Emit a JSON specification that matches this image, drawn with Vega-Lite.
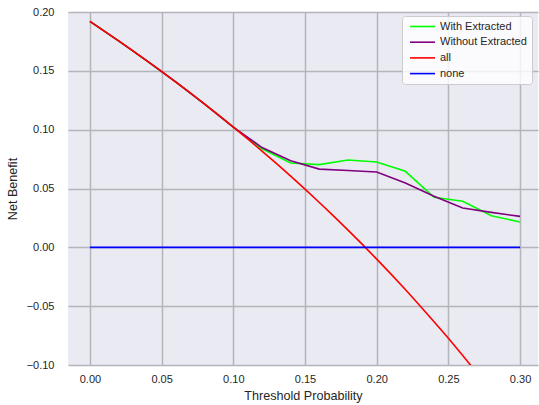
{
  "$schema": "https://vega.github.io/schema/vega-lite/v6.json",
  "width": 470,
  "height": 353,
  "autosize": "none",
  "padding": {"left": 68, "top": 12, "right": 1, "bottom": 40},
  "background": "#ffffff",
  "config": {
    "view": {"fill": "#EAEAF2", "stroke": null},
    "font": "Liberation Sans",
    "axis": {
      "domain": false,
      "ticks": false,
      "grid": true,
      "gridColor": "#b4b4bb",
      "gridWidth": 1.5,
      "labelColor": "#262626",
      "labelFontSize": 11,
      "titleColor": "#262626",
      "titleFontSize": 12.6,
      "titleFontWeight": "normal"
    }
  },
  "data": {
    "values": [
      {"series": "With Extracted", "x": 0.00, "y": 0.192},
      {"series": "With Extracted", "x": 0.02, "y": 0.1755},
      {"series": "With Extracted", "x": 0.04, "y": 0.1583},
      {"series": "With Extracted", "x": 0.06, "y": 0.1404},
      {"series": "With Extracted", "x": 0.08, "y": 0.1217},
      {"series": "With Extracted", "x": 0.10, "y": 0.1022},
      {"series": "With Extracted", "x": 0.12, "y": 0.0838},
      {"series": "With Extracted", "x": 0.14, "y": 0.0716},
      {"series": "With Extracted", "x": 0.16, "y": 0.0703},
      {"series": "With Extracted", "x": 0.18, "y": 0.0742},
      {"series": "With Extracted", "x": 0.20, "y": 0.0725},
      {"series": "With Extracted", "x": 0.22, "y": 0.0646},
      {"series": "With Extracted", "x": 0.24, "y": 0.0425},
      {"series": "With Extracted", "x": 0.26, "y": 0.0391},
      {"series": "With Extracted", "x": 0.28, "y": 0.0269},
      {"series": "With Extracted", "x": 0.30, "y": 0.0215},
      {"series": "Without Extracted", "x": 0.00, "y": 0.192},
      {"series": "Without Extracted", "x": 0.02, "y": 0.1755},
      {"series": "Without Extracted", "x": 0.04, "y": 0.1583},
      {"series": "Without Extracted", "x": 0.06, "y": 0.1404},
      {"series": "Without Extracted", "x": 0.08, "y": 0.1217},
      {"series": "Without Extracted", "x": 0.10, "y": 0.1022},
      {"series": "Without Extracted", "x": 0.12, "y": 0.0848},
      {"series": "Without Extracted", "x": 0.14, "y": 0.0735},
      {"series": "Without Extracted", "x": 0.16, "y": 0.0665},
      {"series": "Without Extracted", "x": 0.18, "y": 0.0653},
      {"series": "Without Extracted", "x": 0.20, "y": 0.0640},
      {"series": "Without Extracted", "x": 0.22, "y": 0.0546},
      {"series": "Without Extracted", "x": 0.24, "y": 0.0435},
      {"series": "Without Extracted", "x": 0.26, "y": 0.0334},
      {"series": "Without Extracted", "x": 0.28, "y": 0.0297},
      {"series": "Without Extracted", "x": 0.30, "y": 0.0263},
      {"series": "all", "x": 0.00, "y": 0.1920},
      {"series": "all", "x": 0.01, "y": 0.1838},
      {"series": "all", "x": 0.02, "y": 0.1755},
      {"series": "all", "x": 0.03, "y": 0.1670},
      {"series": "all", "x": 0.04, "y": 0.1583},
      {"series": "all", "x": 0.05, "y": 0.1495},
      {"series": "all", "x": 0.06, "y": 0.1404},
      {"series": "all", "x": 0.07, "y": 0.1312},
      {"series": "all", "x": 0.08, "y": 0.1217},
      {"series": "all", "x": 0.09, "y": 0.1121},
      {"series": "all", "x": 0.10, "y": 0.1022},
      {"series": "all", "x": 0.11, "y": 0.0921},
      {"series": "all", "x": 0.12, "y": 0.0818},
      {"series": "all", "x": 0.13, "y": 0.0713},
      {"series": "all", "x": 0.14, "y": 0.0605},
      {"series": "all", "x": 0.15, "y": 0.0494},
      {"series": "all", "x": 0.16, "y": 0.0381},
      {"series": "all", "x": 0.17, "y": 0.0265},
      {"series": "all", "x": 0.18, "y": 0.0146},
      {"series": "all", "x": 0.19, "y": 0.0025},
      {"series": "all", "x": 0.20, "y": -0.0100},
      {"series": "all", "x": 0.21, "y": -0.0228},
      {"series": "all", "x": 0.22, "y": -0.0359},
      {"series": "all", "x": 0.23, "y": -0.0494},
      {"series": "all", "x": 0.24, "y": -0.0632},
      {"series": "all", "x": 0.25, "y": -0.0773},
      {"series": "all", "x": 0.26, "y": -0.0919},
      {"series": "all", "x": 0.27, "y": -0.1069},
      {"series": "all", "x": 0.28, "y": -0.1222},
      {"series": "all", "x": 0.29, "y": -0.1380},
      {"series": "all", "x": 0.30, "y": -0.1543},
      {"series": "none", "x": 0.00, "y": 0.0},
      {"series": "none", "x": 0.30, "y": 0.0}
    ]
  },
  "mark": {"type": "line", "clip": true, "strokeWidth": 1.6},
  "encoding": {
    "x": {
      "field": "x",
      "type": "quantitative",
      "scale": {"domain": [-0.0153, 0.3125], "nice": false, "zero": false},
      "axis": {
        "title": "Threshold Probability",
        "values": [0, 0.05, 0.1, 0.15, 0.2, 0.25, 0.3],
        "format": ".2f",
        "labelPadding": 8,
        "titlePadding": 5
      }
    },
    "y": {
      "field": "y",
      "type": "quantitative",
      "scale": {"domain": [-0.1, 0.2], "nice": false, "zero": false},
      "axis": {
        "title": "Net Benefit",
        "values": [-0.1, -0.05, 0, 0.05, 0.1, 0.15, 0.2],
        "format": ".2f",
        "labelPadding": 14,
        "titlePadding": 7
      }
    },
    "color": {
      "field": "series",
      "type": "nominal",
      "scale": {
        "domain": ["With Extracted", "Without Extracted", "all", "none"],
        "range": ["#00ff00", "#800080", "#ff0000", "#0000ff"]
      },
      "legend": {
        "title": null,
        "orient": "none",
        "legendX": 334,
        "legendY": 4,
        "fillColor": "rgba(255,255,255,0.8)",
        "strokeColor": "#cccccc",
        "cornerRadius": 3,
        "padding": 5,
        "symbolType": "M-12.5,0H12.5",
        "symbolSize": 4,
        "symbolStrokeWidth": 1.6,
        "symbolOffset": 10,
        "labelOffset": 12,
        "labelFontSize": 11,
        "labelColor": "#262626",
        "rowPadding": 3.7
      }
    }
  }
}
